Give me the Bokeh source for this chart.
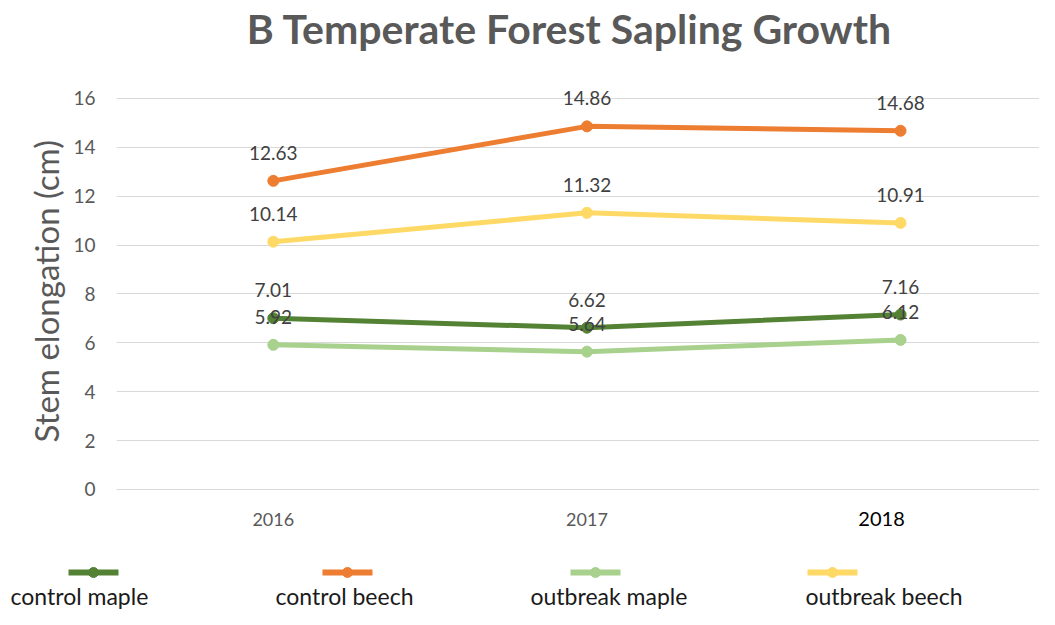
from bokeh.plotting import figure
from bokeh.models import Range1d, FixedTicker, ColumnDataSource, Label, Title
from bokeh.core.properties import value
from bokeh.embed import file_html
from bokeh.resources import INLINE

# ---- data ----
years = ["2016", "2017", "2018"]
series_names = ["control maple", "control beech", "outbreak maple", "outbreak beech"]
control_maple = [7.01, 6.62, 7.16]
control_beech = [12.63, 14.86, 14.68]
outbreak_maple = [5.92, 5.64, 6.12]
outbreak_beech = [10.14, 11.32, 10.91]
y_ticks = [0, 2, 4, 6, 8, 10, 12, 14, 16]

series_values = [control_maple, control_beech, outbreak_maple, outbreak_beech]
colors = ["#548235", "#ED7D31", "#A9D18E", "#FFD966"]

FONT = "Lato"
xs = list(range(len(years)))

# main chart: frame spans full height so that title / labels are not clipped
p = figure(width=1039, height=530, output_backend="svg", toolbar_location=None,
           x_range=Range1d(-0.5, 2.443), y_range=Range1d(-1.678, 20.01),
           x_axis_location=None,
           min_border_left=116, min_border_right=0, min_border_top=0, min_border_bottom=0)
p.outline_line_color = None
p.xgrid.grid_line_color = None
p.ygrid.grid_line_color = "#d9d9d9"
p.ygrid.grid_line_width = 1
p.ygrid.ticker = FixedTicker(ticks=y_ticks)

# title
p.add_layout(Label(x=453, y=502, x_units="screen", y_units="screen",
                   text="B Temperate Forest Sapling Growth", text_font=FONT,
                   text_font_size="41px", text_font_style="bold", text_color="#595959",
                   text_align="center", text_baseline="middle"))

# y axis
p.yaxis.ticker = FixedTicker(ticks=y_ticks)
p.yaxis.axis_line_color = None
p.yaxis.major_tick_line_color = None
p.yaxis.minor_tick_line_color = None
p.yaxis.major_label_text_font = FONT
p.yaxis.major_label_text_font_size = "19px"
p.yaxis.major_label_text_color = "#595959"
p.yaxis.major_label_standoff = 15

# y axis title (side title, placed along the 0-16 value span)
p.add_layout(Title(text="Stem elongation (cm)", align="left", offset=88, standoff=10,
                   text_font=FONT, text_font_size="33px", text_font_style="normal",
                   text_color="#595959"), "left")

# category labels under the zero line (last one darker / larger as in the original)
cat_src = ColumnDataSource(dict(x=xs, y=[0] * len(xs), lab=years,
                                col=["#595959", "#595959", "#000000"],
                                size=["18px", "18px", "20px"],
                                dx=[0, 0, -19]))
p.text("x", "y", text="lab", source=cat_src, text_font=value(FONT), text_font_size="size",
       text_color="col", text_align="center", text_baseline="middle",
       x_offset="dx", y_offset=30)

for vals, c in zip(series_values, colors):
    src = ColumnDataSource(dict(x=xs, y=vals))
    p.line("x", "y", source=src, line_color=c, line_width=5)
    p.scatter("x", "y", source=src, size=11, fill_color=c, line_color=c)

for vals in series_values:
    src = ColumnDataSource(dict(x=xs, y=vals, lab=[f"{v:.2f}" for v in vals]))
    p.text("x", "y", text="lab", source=src, text_font=value(FONT), text_font_size="19px",
           text_color="#404040", text_align="center", text_baseline="middle", y_offset=-28)

# ---- legend strip (glyph above label), separate root so it is not frame-aligned ----
leg_h = 79
lg = figure(width=1039, height=leg_h, output_backend="svg", toolbar_location=None,
            x_range=Range1d(0, 1039), y_range=Range1d(0, leg_h),
            x_axis_location=None, y_axis_location=None,
            min_border_left=0, min_border_right=0, min_border_top=0, min_border_bottom=0)
lg.grid.visible = False
lg.outline_line_color = None
marker_cx = [93, 347, 595, 832]
label_x = [10, 275, 530, 805]
for name, c, cx, lx in zip(series_names, colors, marker_cx, label_x):
    lg.segment(x0=[cx - 25], y0=[37], x1=[cx + 25], y1=[37], line_color=c, line_width=6)
    lg.scatter(x=[cx], y=[37], size=10, fill_color=c, line_color=c)
    lg.text(x=[lx], y=[14], text=[name], text_font=value(FONT), text_font_size="23px",
            text_color="#1a1a1a", text_align="left", text_baseline="middle")

open("out.html", "w").write(file_html([p, lg], INLINE))
